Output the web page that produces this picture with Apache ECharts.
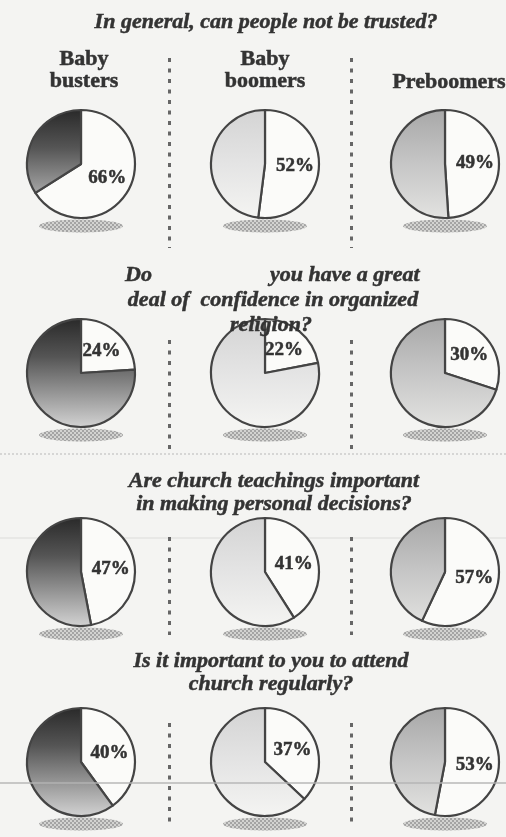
<!DOCTYPE html>
<html>
<head>
<meta charset="utf-8">
<script src="https://cdn.jsdelivr.net/npm/echarts@6/dist/echarts.min.js"></script>
<style>
html,body{margin:0;padding:0;background:#f4f4f2;}
#chart{width:506px;height:837px;}
</style>
</head>
<body>
<div id="chart"></div>
<script>
// ---- data ----
const groups = ['Baby\nbusters', 'Baby\nboomers', 'Preboomers'];
const questions = [
  'In general, can people not be trusted?',
  'Do you have a great deal of confidence in organized religion?',
  'Are church teachings important\nin making personal decisions?',
  'Is it important to you to attend\nchurch regularly?'
];
const notTrusted = [66, 52, 49];
const confidenceReligion = [24, 22, 30];
const churchTeachings = [47, 41, 57];
const attendChurch = [40, 37, 53];
const rowsData = [notTrusted, confidenceReligion, churchTeachings, attendChurch];

// ---- layout / style ----
const colX = [81, 265, 445];
const rowY = [164, 373, 572, 762];
const R = 54;
const ink = '#333333';
const shadeStops = [
  [['#2a2a2a', 0], ['#555555', 0.35], ['#d2d2d2', 1]],
  [['#d4d4d4', 0], ['#e4e4e4', 0.5], ['#f4f4f2', 1]],
  [['#a8a8a8', 0], ['#c6c6c6', 0.5], ['#e2e2e0', 1]]
];

const chart = echarts.init(document.getElementById('chart'));

function shadePattern() {
  const c = document.createElement('canvas');
  c.width = 4; c.height = 4;
  const g = c.getContext('2d');
  g.fillStyle = '#d0d0ce'; g.fillRect(0, 0, 4, 4);
  g.fillStyle = '#9c9c9c';
  g.fillRect(0, 0, 2, 2); g.fillRect(2, 2, 2, 2);
  return c;
}
const pat = shadePattern();

const series = [];
const graphics = [];
rowsData.forEach((vals, r) => {
  vals.forEach((v, c) => {
    const cx = colX[c], cy = rowY[r];
    const stops = shadeStops[c].map(s => ({ offset: s[1], color: s[0] }));
    series.push({
      type: 'pie',
      center: [cx, cy],
      radius: R,
      startAngle: 90,
      clockwise: true,
      silent: true,
      animation: false,
      avoidLabelOverlap: false,
      labelLine: { show: false },
      z: 3,
      itemStyle: { borderColor: '#444444', borderWidth: 2.2 },
      label: {
        show: true, position: 'inside', formatter: '{c}%',
        fontFamily: 'Liberation Serif', fontWeight: 'bold', fontSize: 19,
        color: ink, textBorderColor: ink, textBorderWidth: 0.5
      },
      data: [
        { value: v, itemStyle: { color: '#fbfbf9' } },
        { value: 100 - v, label: { show: false },
          itemStyle: { color: new echarts.graphic.LinearGradient(0, cy - R, 0, cy + R, stops, true) } }
      ]
    });
    graphics.push({
      type: 'ellipse', z: 1,
      shape: { cx: cx, cy: cy + 62, rx: 42, ry: 6.5 },
      style: { fill: { image: pat, repeat: 'repeat' }, opacity: 0.9 }
    });
  });
});

// group headers
const headerFont = 'bold 22px "Liberation Serif"';
[[84, 48], [265, 48], [449, 71]].forEach((p, i) => {
  graphics.push({
    type: 'text', z: 5, x: p[0], y: p[1],
    style: { text: groups[i], font: headerFont, fill: ink, align: 'center', verticalAlign: 'top', lineHeight: 22,
      stroke: ink, lineWidth: 0.5 }
  });
});

// question titles
const qFont = 'italic bold 22px "Liberation Serif"';
function qText(txt, x, y, align) {
  graphics.push({
    type: 'text', z: 6, x: x, y: y,
    style: { text: txt, font: qFont, fill: ink, align: align || 'center', verticalAlign: 'middle', lineHeight: 23,
      stroke: ink, lineWidth: 0.5 }
  });
}
qText(questions[0], 266, 22);
const q2 = questions[1].split(' ');
qText(q2[0], 125, 275, 'left');
qText(q2.slice(1, 5).join(' '), 270, 275, 'left');
qText(q2.slice(5, 7).join(' ') + '  ' + q2.slice(7, 10).join(' '), 273, 300);
qText(q2.slice(10).join(' '), 271, 325);
qText(questions[2], 274, 493);
qText(questions[3], 271, 673);

// dotted dividers
const divSegs = [[58, 248], [340, 452], [537, 635], [723, 828]];
[169.5, 351.5].forEach(x => {
  divSegs.forEach(s => {
    graphics.push({
      type: 'line', z: 2,
      shape: { x1: x, y1: s[0], x2: x, y2: s[1] },
      style: { stroke: '#666666', lineWidth: 3, lineDash: [4, 6.5] }
    });
  });
});

// faint scan lines
graphics.push({ type: 'line', z: 0, shape: { x1: 0, y1: 454, x2: 506, y2: 454 },
  style: { stroke: '#b8b8b8', lineWidth: 1, lineDash: [2, 2] } });
graphics.push({ type: 'line', z: 0, shape: { x1: 0, y1: 538, x2: 506, y2: 538 },
  style: { stroke: '#dcdcda', lineWidth: 1 } });
graphics.push({ type: 'line', z: 7, shape: { x1: 0, y1: 783, x2: 506, y2: 783 },
  style: { stroke: '#b4b4b4', lineWidth: 2, opacity: 0.7 } });

chart.setOption({
  backgroundColor: '#f4f4f2',
  animation: false,
  series: series,
  graphic: graphics
});
</script>
</body>
</html>
